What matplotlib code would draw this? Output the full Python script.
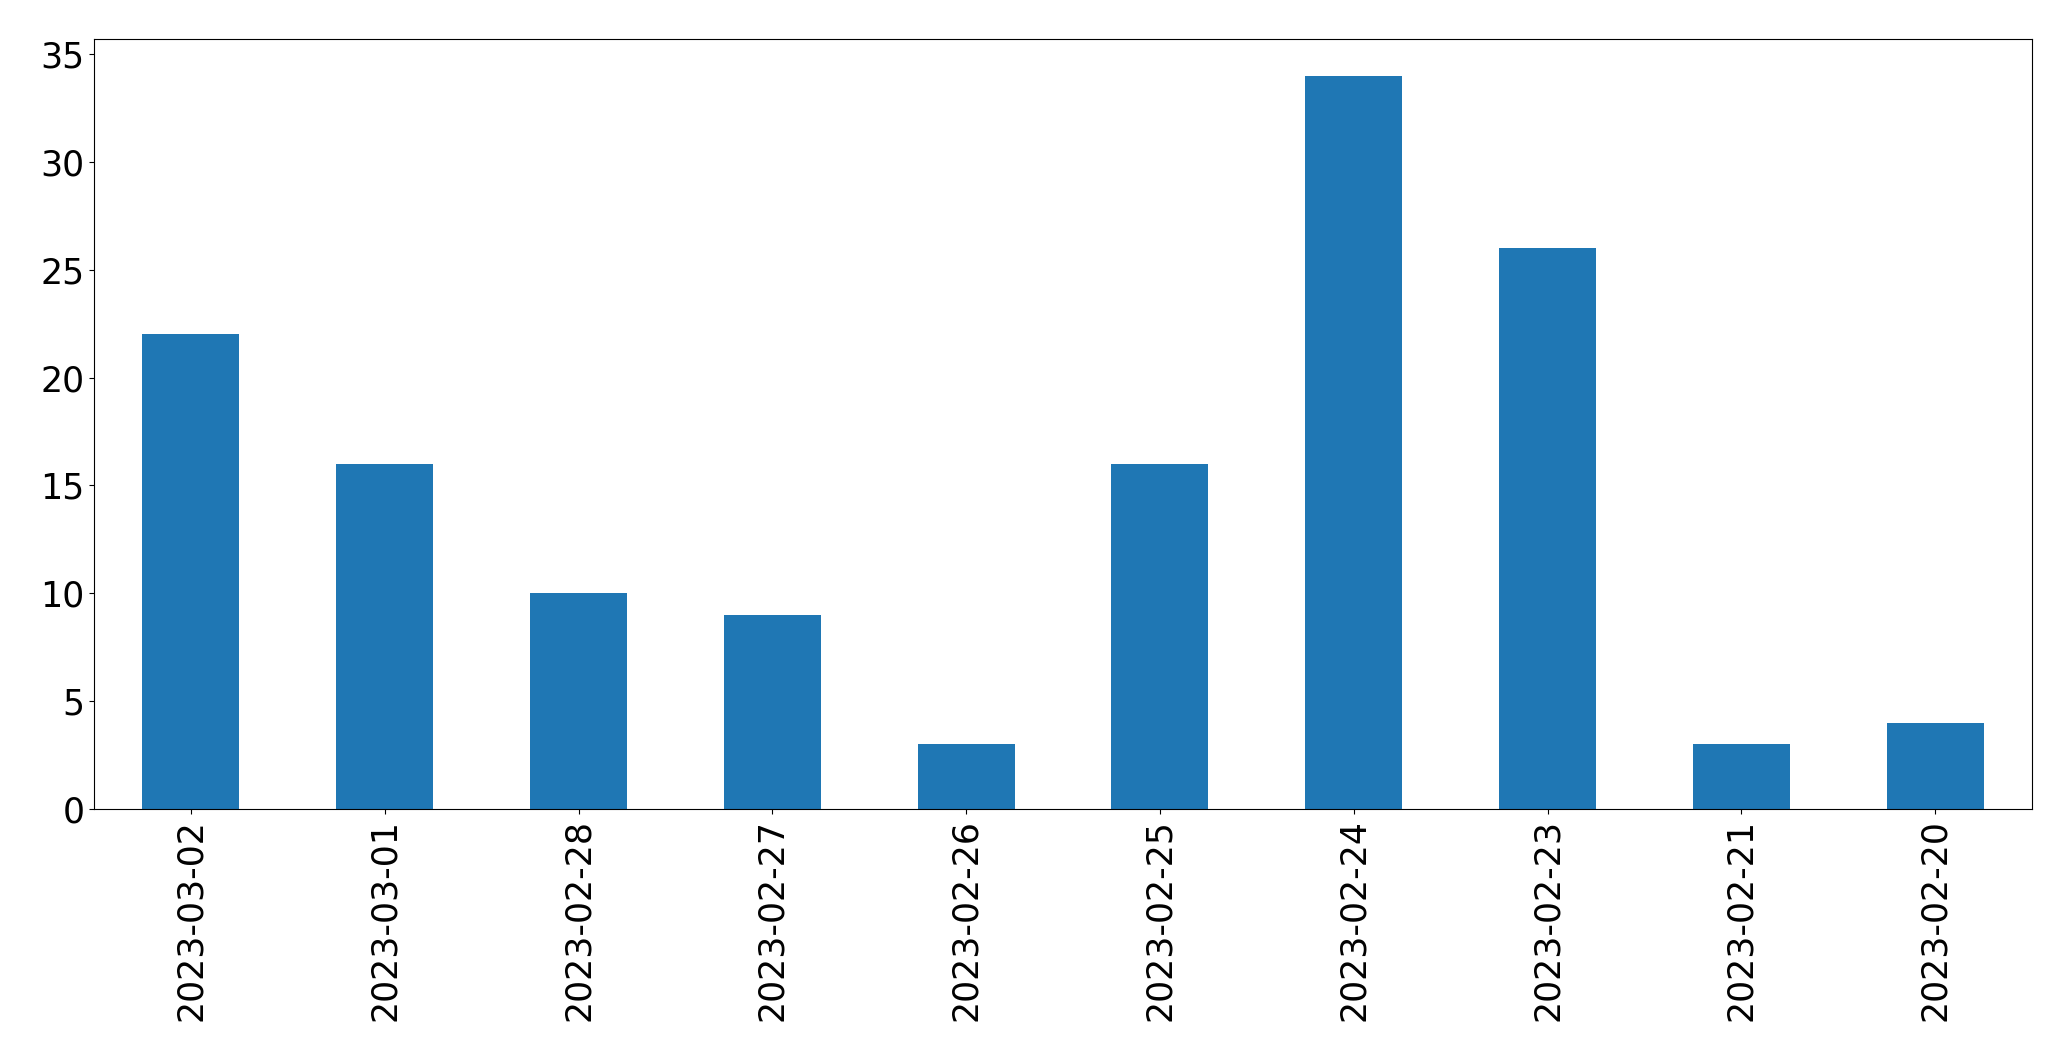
import matplotlib
matplotlib.use("Agg")
import matplotlib.pyplot as plt

# daily counts, in the order shown
dates = ["2023-03-02", "2023-03-01", "2023-02-28", "2023-02-27", "2023-02-26",
         "2023-02-25", "2023-02-24", "2023-02-23", "2023-02-21", "2023-02-20"]
counts = [22, 16, 10, 9, 3, 16, 34, 26, 3, 4]

fig, ax = plt.subplots(figsize=(20.71, 10.61), dpi=100)
fig.subplots_adjust(left=94/2071, right=2032/2071, top=1 - 39/1061, bottom=1 - 809/1061)

x = range(len(dates))
ax.bar(x, counts, width=0.5, color="#1f77b4")
ax.set_xlim(-0.5, len(dates) - 0.5)
ax.set_ylim(0, max(counts) * 1.05)
ax.set_xticks(list(x))
ax.set_xticklabels(dates, rotation=90)
ax.tick_params(labelsize=25)

fig.savefig("out.png", dpi=100)
